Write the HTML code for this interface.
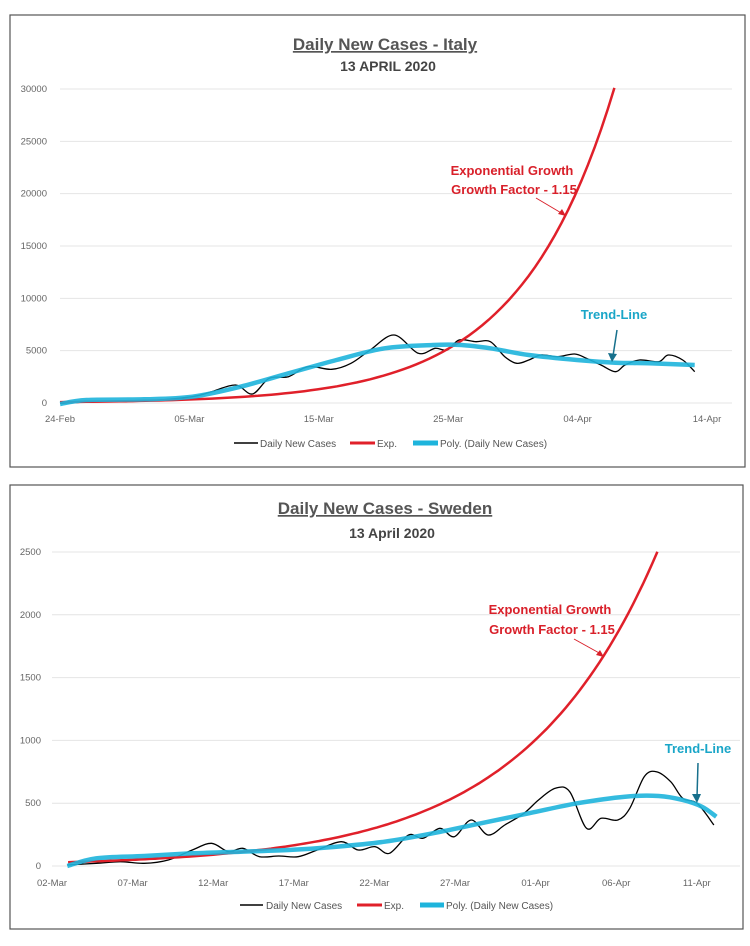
<!DOCTYPE html>
<html><head><meta charset="utf-8">
<style>
html,body{margin:0;padding:0;background:#fff;}
svg{display:block;}
text{font-family:"Liberation Sans Narrow","Liberation Sans",sans-serif;}
</style></head>
<body>
<svg id="s" width="750" height="946" viewBox="0 0 750 946" xmlns="http://www.w3.org/2000/svg">
<rect x="0" y="0" width="750" height="946" fill="#fff"/>
<rect x="10" y="15" width="735" height="452" fill="#fff" stroke="#555" stroke-width="1.2"/>
<rect x="10" y="485" width="733" height="444" fill="#fff" stroke="#555" stroke-width="1.2"/>
<g id="ig" stroke="#e4e4e4" stroke-width="1"></g>
<text x="385" y="50" text-anchor="middle" font-size="17" font-weight="bold" fill="#555" text-decoration="underline">Daily New Cases - Italy</text>
<text x="388" y="71" text-anchor="middle" font-size="14" font-weight="bold" fill="#444">13 APRIL 2020</text>
<text x="385" y="514" text-anchor="middle" font-size="17" font-weight="bold" fill="#555" text-decoration="underline">Daily New Cases - Sweden</text>
<text x="392" y="538" text-anchor="middle" font-size="14" font-weight="bold" fill="#444">13 April 2020</text>
<g id="lines"></g>
<g font-weight="bold" font-size="13">
<text x="512" y="175" text-anchor="middle" fill="#d9202a">Exponential Growth</text>
<text x="514" y="194" text-anchor="middle" fill="#d9202a">Growth Factor - 1.15</text>
<text x="614" y="319" text-anchor="middle" fill="#1aa6c8">Trend-Line</text>
<text x="550" y="614" text-anchor="middle" fill="#d9202a">Exponential Growth</text>
<text x="552" y="634" text-anchor="middle" fill="#d9202a">Growth Factor - 1.15</text>
<text x="698" y="753" text-anchor="middle" fill="#1aa6c8">Trend-Line</text>
</g>
<g stroke-width="1">
<line x1="536" y1="198" x2="563" y2="214" stroke="#d9202a"/><polygon points="566,216 558,214 562,209" fill="#d9202a"/>
<line x1="574" y1="639" x2="601" y2="654" stroke="#d9202a"/><polygon points="604,657 596,655 600,650" fill="#d9202a"/>
<line x1="617" y1="330" x2="613" y2="356" stroke="#17708c" stroke-width="1.5"/><polygon points="612,362 608,353 617,354" fill="#17708c"/>
<line x1="698" y1="763" x2="697" y2="797" stroke="#17708c" stroke-width="1.5"/><polygon points="697,803 692,794 701,794" fill="#17708c"/>
</g>
<g font-size="10" fill="#555">
<line x1="234" y1="443" x2="258" y2="443" stroke="#000" stroke-width="1.5"/><text x="260" y="447">Daily New Cases</text>
<line x1="350" y1="443" x2="375" y2="443" stroke="#e0202a" stroke-width="3"/><text x="377" y="447">Exp.</text>
<line x1="413" y1="443" x2="438" y2="443" stroke="#1eb4dc" stroke-width="5"/><text x="440" y="447">Poly. (Daily New Cases)</text>
<line x1="240" y1="905" x2="263" y2="905" stroke="#000" stroke-width="1.5"/><text x="266" y="909">Daily New Cases</text>
<line x1="357" y1="905" x2="382" y2="905" stroke="#e0202a" stroke-width="3"/><text x="384" y="909">Exp.</text>
<line x1="420" y1="905" x2="444" y2="905" stroke="#1eb4dc" stroke-width="5"/><text x="446" y="909">Poly. (Daily New Cases)</text>
</g>
<g id="ticks" font-size="9.5" fill="#666"></g>
</svg>
<script>
var NS="http://www.w3.org/2000/svg";
function el(p,t,a,txt){var e=document.createElementNS(NS,t);for(var k in a)e.setAttribute(k,a[k]);if(txt!=null)e.textContent=txt;document.getElementById(p).appendChild(e);return e;}
for(var i=0;i<=6;i++){var y=403-i*52.33;el('ig','line',{x1:60,x2:732,y1:y,y2:y});el('ticks','text',{x:47,y:y+3,'text-anchor':'end'},String(i*5000));}
var il=['24-Feb','05-Mar','15-Mar','25-Mar','04-Apr','14-Apr'];
for(var i=0;i<6;i++)el('ticks','text',{x:60+i*129.4,y:422,'text-anchor':'middle'},il[i]);
for(var i=0;i<=5;i++){var y=866-i*62.8;el('ig','line',{x1:52,x2:740,y1:y,y2:y});el('ticks','text',{x:41,y:y+3,'text-anchor':'end'},String(i*500));}
var sl=['02-Mar','07-Mar','12-Mar','17-Mar','22-Mar','27-Mar','01-Apr','06-Apr','11-Apr'];
for(var i=0;i<9;i++)el('ticks','text',{x:52+i*80.6,y:886,'text-anchor':'middle'},sl[i]);
function smooth(pts){var d='M'+pts[0][0].toFixed(1)+','+pts[0][1].toFixed(1);
for(var i=0;i<pts.length-1;i++){var p0=pts[i-1]||pts[i],p1=pts[i],p2=pts[i+1],p3=pts[i+2]||p2;
d+=' C'+(p1[0]+(p2[0]-p0[0])/6).toFixed(1)+','+(p1[1]+(p2[1]-p0[1])/6).toFixed(1)+' '+(p2[0]-(p3[0]-p1[0])/6).toFixed(1)+','+(p2[1]-(p3[1]-p1[1])/6).toFixed(1)+' '+p2[0].toFixed(1)+','+p2[1].toFixed(1);}return d;}
function conv(a,yo){return a.map(function(p){return [p[0]/2.08,yo+p[1]/3];});}
var iB=conv([[125,1210],[200,1205],[300,1203],[400,1190],[440,1175],[490,1155],[525,1182],[560,1135],[600,1130],[640,1100],[690,1108],[730,1090],[770,1050],[820,1005],[870,1060],[905,1045],[930,1050],[955,1020],[990,1025],[1020,1025],[1050,1070],[1075,1090],[1100,1080],[1125,1065],[1160,1070],[1195,1062],[1220,1075],[1250,1095],[1280,1115],[1300,1095],[1330,1080],[1370,1085],[1390,1065],[1420,1080],[1445,1115]],0);
var iC=conv([[125,1212],[180,1200],[300,1198],[400,1190],[500,1160],[600,1120],[700,1080],[800,1045],[900,1035],[960,1035],[1020,1045],[1100,1065],[1200,1080],[1280,1088],[1350,1090],[1445,1095]],0);
var sB=conv([[140,1185],[200,1180],[250,1175],[300,1180],[350,1170],[400,1140],[440,1120],[475,1145],[505,1135],[540,1160],[580,1158],[620,1160],[660,1140],[710,1115],[745,1140],[780,1130],[810,1150],[850,1095],[880,1105],[915,1075],[945,1100],[980,1050],[1015,1095],[1050,1065],[1090,1030],[1120,990],[1155,955],[1185,965],[1220,1075],[1250,1045],[1285,1050],[1310,1015],[1340,920],[1365,905],[1395,935],[1420,985],[1450,1000],[1485,1065]],470);
var sC=conv([[140,1188],[200,1165],[300,1158],[400,1150],[500,1145],[600,1140],[700,1130],[800,1115],[900,1090],[1000,1060],[1100,1030],[1200,1000],[1300,980],[1370,978],[1420,990],[1460,1010],[1490,1040]],470);
var iE=[],sE=[];
for(var d=0;d<=42.05;d+=0.5){iE.push([60+13.2*d,403-85*Math.pow(1.15,d)*52.33/5000]);}
for(var d=1;d<=37.65;d+=0.3){sE.push([52+16.1*d,866-27*Math.pow(1.128,d)*62.8/500]);}
function poly(a){return 'M'+a.map(function(p){return p[0].toFixed(1)+','+p[1].toFixed(1);}).join(' L');}
el('lines','path',{d:smooth(iB),fill:'none',stroke:'#000','stroke-width':1.3});
el('lines','path',{d:poly(iE),fill:'none',stroke:'#e0202a','stroke-width':2.5});
el('lines','path',{d:smooth(iC),fill:'none',stroke:'#1eb4dc','stroke-width':4.5,'stroke-opacity':0.9});
el('lines','path',{d:smooth(sB),fill:'none',stroke:'#000','stroke-width':1.3});
el('lines','path',{d:poly(sE),fill:'none',stroke:'#e0202a','stroke-width':2.5});
el('lines','path',{d:smooth(sC),fill:'none',stroke:'#1eb4dc','stroke-width':4.5,'stroke-opacity':0.9});
</script>
</body></html>
